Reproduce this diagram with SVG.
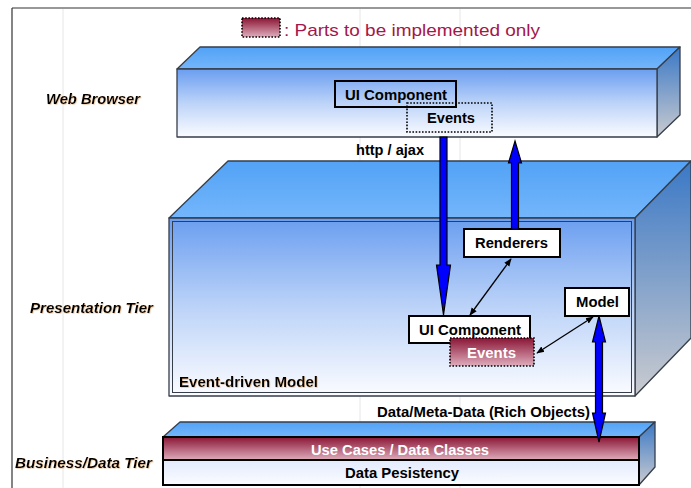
<svg xmlns="http://www.w3.org/2000/svg" width="691" height="488" viewBox="0 0 691 488">
<defs>
<linearGradient id="topFace" x1="0" y1="0" x2="0" y2="1"><stop offset="0" stop-color="#52a2f6"/><stop offset="1" stop-color="#74b6fb"/></linearGradient>
<linearGradient id="frontFace" x1="0" y1="0" x2="0" y2="1"><stop offset="0" stop-color="#6a9ef0"/><stop offset="0.5" stop-color="#bcd3f8"/><stop offset="1" stop-color="#fbfcff"/></linearGradient>
<linearGradient id="sideFace" x1="0" y1="0" x2="0" y2="1"><stop offset="0" stop-color="#3a78c6"/><stop offset="1" stop-color="#cacbcf"/></linearGradient>
<linearGradient id="maroon" x1="0" y1="0" x2="0" y2="1"><stop offset="0" stop-color="#8a1535"/><stop offset="1" stop-color="#dfadbd"/></linearGradient>
<linearGradient id="paleBand" x1="0" y1="0" x2="0" y2="1"><stop offset="0" stop-color="#e2eafc"/><stop offset="1" stop-color="#fbfcff"/></linearGradient>
<filter id="glow" x="-5%" y="-30%" width="110%" height="160%"><feDropShadow dx="0.7" dy="0.7" stdDeviation="0.5" flood-color="#c8823a" flood-opacity="0.45"/></filter>
<marker id="ah" viewBox="0 0 10 10" refX="9" refY="5" markerWidth="6" markerHeight="6" orient="auto-start-reverse"><path d="M0,1 L10,5 L0,9 z" fill="#000"/></marker>
</defs>
<style>
.edge{stroke:#363e4a;stroke-width:1.3;stroke-linejoin:round}
.box{fill:#fff;stroke:#000;stroke-width:2}
.t{font-family:"Liberation Sans",Arial,sans-serif;font-weight:bold;font-size:14px;fill:#000}
.tier{font-family:"Liberation Sans",Arial,sans-serif;font-weight:bold;font-style:italic;font-size:14px;fill:#000}
.dotted{stroke:#000;stroke-width:1.6;stroke-dasharray:1.6,1.6}
.blue{fill:#0000ff;stroke:#000;stroke-width:1.2;stroke-linejoin:miter}
.thin{stroke:#000;stroke-width:1.3;fill:none}
.grid{stroke:#e6e6e6;stroke-width:1}
</style>
<rect width="691" height="488" fill="#fff"/>
<g id="frame">
<line class="grid" x1="63" y1="9" x2="63" y2="488"/>
<line class="grid" x1="360" y1="9" x2="360" y2="488"/>
<line class="grid" x1="460" y1="9" x2="460" y2="488"/>
<line x1="12" y1="8" x2="691" y2="8" stroke="#333" stroke-width="1.2"/>
<line x1="12" y1="8" x2="12" y2="488" stroke="#333" stroke-width="1.2"/>
</g>
<g id="legend">
<rect x="242" y="18" width="38" height="19" fill="url(#maroon)" class="dotted"/>
<text x="284" y="36" font-family="'Liberation Sans',Arial,sans-serif" font-size="17" fill="#a3174a" textLength="256" lengthAdjust="spacingAndGlyphs">: Parts to be implemented only</text>
</g>
<g id="tier-labels" filter="url(#glow)">
<text class="tier" x="46" y="104" textLength="94" lengthAdjust="spacingAndGlyphs">Web Browser</text>
<text class="tier" x="30" y="313" textLength="123" lengthAdjust="spacingAndGlyphs">Presentation Tier</text>
<text class="tier" x="15" y="468" textLength="137" lengthAdjust="spacingAndGlyphs">Business/Data Tier</text>
</g>
<g id="web-browser">
<polygon class="edge" points="177,69 200,47 680,47 657,69" fill="url(#topFace)"/>
<polygon class="edge" points="657,69 680,47 680,115 657,137" fill="url(#sideFace)"/>
<rect class="edge" x="177" y="69" width="480" height="68" fill="url(#frontFace)"/>
</g>
<g id="presentation-tier">
<polygon class="edge" points="169,218 228,161 691,161 691,161 635,218" fill="url(#topFace)"/>
<polygon class="edge" points="635,218 691,161 691,338 635,396" fill="url(#sideFace)"/>
<rect class="edge" x="169" y="218" width="466" height="178" fill="url(#frontFace)"/>
<rect x="172.5" y="221.5" width="459" height="171" fill="none" stroke="#363e4a" stroke-width="1"/>
<text class="t" x="179" y="387" filter="url(#glow)" textLength="139" lengthAdjust="spacingAndGlyphs">Event-driven Model</text>
</g>
<g id="business-tier">
<polygon class="edge" points="163,437 180,422 655,422 639,437" fill="url(#topFace)"/>
<polygon class="edge" points="639,437 655,422 655,467 639,485" fill="url(#sideFace)"/>
<rect x="163" y="437" width="476" height="23" fill="url(#maroon)" stroke="#000" stroke-width="2"/>
<rect x="163" y="460" width="476" height="25" fill="url(#paleBand)" stroke="#000" stroke-width="2"/>
<text class="t" x="311" y="455" style="fill:#fff" textLength="178" lengthAdjust="spacingAndGlyphs">Use Cases / Data Classes</text>
<text class="t" x="345" y="478" textLength="114" lengthAdjust="spacingAndGlyphs">Data Pesistency</text>
</g>
<g id="browser-events">
<rect x="407" y="103" width="85" height="29" fill="none" class="dotted"/>
<text class="t" x="427" y="123" textLength="48" lengthAdjust="spacingAndGlyphs">Events</text>
</g>
<g id="browser-ui-component">
<rect x="335" y="81" width="121" height="26" fill="none" stroke="#000" stroke-width="2"/>
<text class="t" x="345" y="100" textLength="102" lengthAdjust="spacingAndGlyphs">UI Component</text>
</g>
<g id="renderers">
<rect class="box" x="464" y="229" width="96" height="28"/>
<text class="t" x="475" y="248" textLength="73" lengthAdjust="spacingAndGlyphs">Renderers</text>
</g>
<g id="model">
<rect class="box" x="565" y="288" width="64" height="28"/>
<text class="t" x="576" y="307" textLength="43" lengthAdjust="spacingAndGlyphs">Model</text>
</g>
<g id="ui-component">
<rect class="box" x="409" y="316" width="121" height="27"/>
<text class="t" x="419" y="335" textLength="102" lengthAdjust="spacingAndGlyphs">UI Component</text>
</g>
<g id="events">
<rect x="450" y="338" width="84" height="28" fill="url(#maroon)" class="dotted"/>
<text class="t" x="467" y="358" style="fill:#fff" textLength="49" lengthAdjust="spacingAndGlyphs">Events</text>
</g>
<g id="connectors">
<polygon class="blue" points="440,137 447,137 447,265 450.5,265 443.5,315 436.5,265 440,265"/>
<polygon class="blue" points="515,141 521.5,163 518.5,163 518.5,229 511.5,229 511.5,163 508.5,163"/>
<polygon class="blue" points="599,316 605.5,342 602.5,342 602.5,413 605.5,413 599,442 592.5,413 595.5,413 595.5,342 592.5,342"/>
<line class="thin" x1="511" y1="259" x2="470" y2="315" marker-start="url(#ah)" marker-end="url(#ah)"/>
<line class="thin" x1="593" y1="317" x2="537" y2="353" marker-start="url(#ah)" marker-end="url(#ah)"/>
<text class="t" x="356" y="155" textLength="68" lengthAdjust="spacingAndGlyphs">http / ajax</text>
<text class="t" x="377" y="417" textLength="213" lengthAdjust="spacingAndGlyphs">Data/Meta-Data (Rich Objects)</text>
</g>
</svg>
